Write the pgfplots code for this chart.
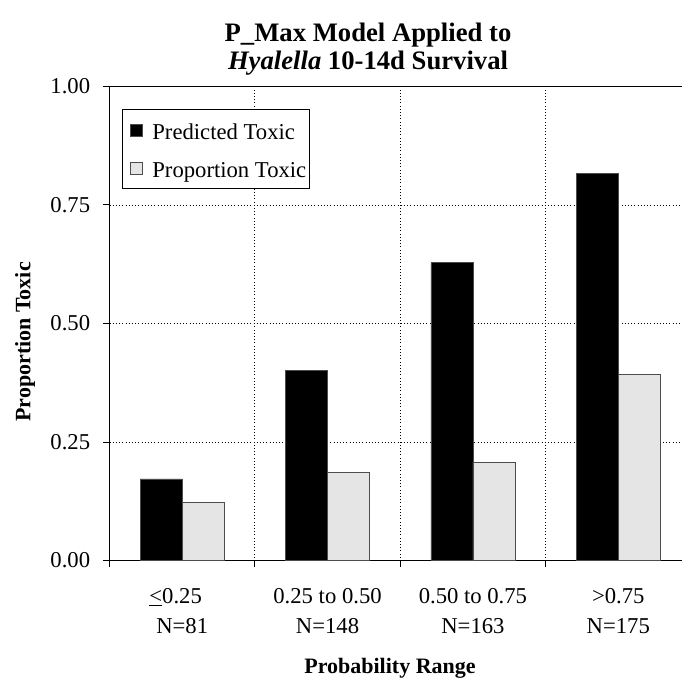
\documentclass[border=0pt]{standalone}
\usepackage{fontspec}
\setmainfont{Liberation Serif}
\usepackage{pgfplots}
\pgfplotsset{compat=1.18}
\begin{document}
\begin{tikzpicture}[x=0.75pt,y=0.75pt]
\useasboundingbox (0,0) rectangle (682,683);
\clip (0,0) rectangle (682,683);
\begin{axis}[
  at={(82.125pt,91.875pt)}, anchor=south west,
  scale only axis, width=436.125pt, height=355.5pt,
  xmin=-0.5, xmax=3.5, ymin=0, ymax=1,
  axis line style={line width=1pt},
  xtick={-0.5,0.5,1.5,2.5,3.5}, xticklabels={},
  extra x ticks={0,1,2,3},
  extra x tick labels={{\underline{<}0.25\hspace*{9.75pt}\\N=81},{0.25 to 0.50\\N=148},{0.50 to 0.75\\N=163},{>0.75\\N=175}},
  extra x tick style={major tick length=0pt, grid=none,
     tick label style={align=center, font=\fontsize{17}{22.5}\selectfont, yshift=-17.25pt}},
  ytick={0,0.25,0.5,0.75,1},
  yticklabel style={xshift=-6pt, /pgf/number format/.cd, fixed, fixed zerofill, precision=2},
  /pgf/number format/assume math mode=true,
  ticklabel style={font=\fontsize{17}{20}\selectfont},
  xmajorgrids, ymajorgrids,
  major grid style={dotted, black, line width=0.6pt},
  tick align=outside, major tick length=5pt,
  tick style={black, line width=0.75pt},
  xtick pos=left, ytick pos=left,
  legend style={at={(0.022,0.952)}, anchor=north west, draw=black, fill=white,
     font=\fontsize{17}{20}\selectfont, cells={anchor=west}, row sep=8.2pt,
     inner xsep=0pt, inner ysep=5.6pt,
     nodes={text height=15pt, text depth=1pt, inner sep=2pt}},
]
\addplot[ybar, bar width=31.5pt, bar shift=-15.75pt, fill=black, draw=black!70, line width=0.6pt,
  legend image code/.code={\path (0pt,0pt) (19.75pt,0pt); \draw[fill=black, draw=black!70, line width=0.6pt] (5.5pt,-4.5pt) rectangle (14.5pt,4.5pt);}]
  coordinates {(0,0.172)(1,0.401)(2,0.628)(3,0.816)};
\addplot[ybar, bar width=31.5pt, bar shift=15.75pt, fill=black!10, draw=black!70, line width=0.6pt,
  legend image code/.code={\path (0pt,0pt) (19.75pt,0pt); \draw[fill=black!10, draw=black!70, line width=0.6pt] (5.5pt,-4.5pt) rectangle (14.5pt,4.5pt);}]
  coordinates {(0,0.122)(1,0.185)(2,0.207)(3,0.392)};
\legend{Predicted Toxic, Proportion Toxic}
\end{axis}
\node[font=\bfseries\fontsize{20}{24}\selectfont, anchor=base] at (368,641) {P\_Max Model Applied to};
\node[font=\bfseries\fontsize{20}{24}\selectfont, anchor=base] at (368,613) {\textit{Hyalella} 10-14d Survival};
\node[font=\bfseries\fontsize{16.5}{20}\selectfont, rotate=90, anchor=center] at (25,341) {Proportion Toxic};
\node[font=\bfseries\fontsize{16.5}{20}\selectfont, anchor=base] at (390,10) {Probability Range};
\end{tikzpicture}
\end{document}
